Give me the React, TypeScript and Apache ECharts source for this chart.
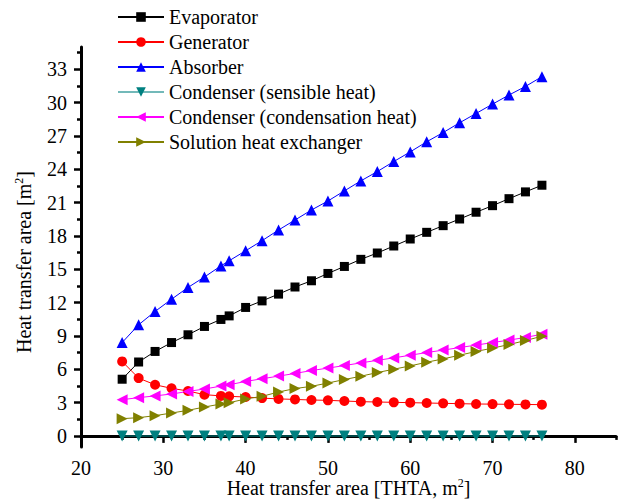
import React, { useEffect, useRef } from "react";
import * as echarts from "echarts";

// Heat transfer area of each component against the total heat transfer area
const totalArea = [25, 27, 29, 31, 33, 35, 37, 38, 40, 42, 44, 46, 48, 50, 52, 54, 56, 58, 60, 62, 64, 66, 68, 70, 72, 74, 76];

const evaporator = [5.1, 6.65, 7.6, 8.4, 9.1, 9.85, 10.48, 10.8, 11.56, 12.15, 12.76, 13.4, 13.96, 14.62, 15.25, 15.89, 16.46, 17.09, 17.72, 18.32, 18.92, 19.52, 20.13, 20.72, 21.35, 21.96, 22.56];
const generator = [6.7, 5.2, 4.6, 4.28, 4.04, 3.71, 3.6, 3.56, 3.5, 3.4, 3.33, 3.28, 3.23, 3.2, 3.14, 3.08, 3.05, 3.02, 2.99, 2.96, 2.93, 2.9, 2.87, 2.86, 2.84, 2.83, 2.81];
const absorber = [8.4, 10.0, 11.2, 12.3, 13.36, 14.3, 15.3, 15.76, 16.66, 17.57, 18.53, 19.43, 20.33, 21.14, 22.05, 22.95, 23.79, 24.69, 25.56, 26.47, 27.3, 28.18, 29.02, 29.86, 30.68, 31.45, 32.33];
const condenserSensible = [0, 0, 0, 0, 0, 0, 0, 0, 0, 0, 0, 0, 0, 0, 0, 0, 0, 0, 0, 0, 0, 0, 0, 0, 0, 0, 0];
const condenserCondensation = [3.26, 3.44, 3.6, 3.77, 4.0, 4.22, 4.48, 4.6, 4.9, 5.14, 5.38, 5.62, 5.88, 6.1, 6.33, 6.57, 6.8, 7.02, 7.26, 7.5, 7.72, 7.95, 8.17, 8.4, 8.62, 8.86, 9.15];
const solutionHx = [1.55, 1.64, 1.82, 2.06, 2.3, 2.6, 2.87, 2.99, 3.32, 3.56, 3.95, 4.26, 4.46, 4.76, 5.07, 5.37, 5.7, 6.0, 6.3, 6.63, 6.93, 7.26, 7.6, 7.9, 8.22, 8.58, 8.97];

const xMajorTicks = [20, 30, 40, 50, 60, 70, 80];
const xMinorTicks = [25, 35, 45, 55, 65, 75, 85];
const yMajorTicks = [0, 3, 6, 9, 12, 15, 18, 21, 24, 27, 30, 33];
const yMinorTicks = [1.5, 4.5, 7.5, 10.5, 13.5, 16.5, 19.5, 22.5, 25.5, 28.5, 31.5, 34.5];

const FONT = "'Liberation Serif', 'Times New Roman', serif";

const pairs = (ys: number[]) => totalArea.map((x, i) => [x, ys[i]]);

const seriesDefs = [
  { name: "Evaporator", data: evaporator, color: "#000000", symbol: "rect", size: 9, rotate: 0 },
  { name: "Generator", data: generator, color: "#FF0000", symbol: "circle", size: 10, rotate: 0 },
  { name: "Absorber", data: absorber, color: "#0000FF", symbol: "triangle", size: 11, rotate: 0 },
  { name: "Condenser (sensible heat)", data: condenserSensible, color: "#008080", symbol: "triangle", size: 11, rotate: 180 },
  { name: "Condenser (condensation heat)", data: condenserCondensation, color: "#FF00FF", symbol: "triangle", size: 11, rotate: 90 },
  { name: "Solution heat exchanger", data: solutionHx, color: "#808000", symbol: "triangle", size: 11, rotate: -90 },
];

export default function App() {
  const ref = useRef<HTMLDivElement>(null);

  useEffect(() => {
    if (!ref.current) return;
    const chart = echarts.init(ref.current, undefined, { renderer: "svg" });

    const axisLine = { show: true, lineStyle: { color: "#000", width: 3 } };
    const labelStyle = { color: "#000", fontSize: 20, fontFamily: FONT };
    const supStyle = { fontSize: 12, fontFamily: FONT, color: "#000", verticalAlign: "top", padding: [0, 0, 10, 0] };

    chart.setOption({
      animation: false,
      backgroundColor: "#fff",
      grid: { left: 81, top: 47, width: 535, height: 400, outerBoundsMode: "none", containLabel: false },
      legend: {
        orient: "vertical",
        left: 117,
        top: 7,
        padding: 0,
        itemWidth: 46,
        itemHeight: 12,
        itemGap: 5,
        textStyle: { color: "#000", fontSize: 20, fontFamily: FONT, lineHeight: 20 },
        data: seriesDefs.map((s) => s.name),
      },
      xAxis: [
        {
          type: "value",
          min: 20,
          max: 85,
          position: "bottom",
          axisLine,
          splitLine: { show: false },
          axisTick: { show: true, customValues: xMajorTicks, length: 7, lineStyle: { color: "#000", width: 2.5 } },
          axisLabel: { ...labelStyle, customValues: xMajorTicks, margin: 11 },
          name: "Heat transfer area [THTA, m{sup|2}]",
          nameLocation: "middle",
          nameGap: 30,
          nameMoveOverlap: false,
          nameTextStyle: { color: "#000", fontSize: 20, fontFamily: FONT, rich: { sup: supStyle } },
        },
        {
          type: "value",
          min: 20,
          max: 85,
          position: "bottom",
          axisLine: { show: false },
          splitLine: { show: false },
          axisTick: { show: true, customValues: xMinorTicks, length: 4, lineStyle: { color: "#000", width: 2.5 } },
          axisLabel: { show: false },
        },
      ],
      yAxis: [
        {
          type: "value",
          min: -1,
          max: 35,
          position: "left",
          axisLine,
          splitLine: { show: false },
          axisTick: { show: true, customValues: yMajorTicks, length: 7, lineStyle: { color: "#000", width: 2.5 } },
          axisLabel: { ...labelStyle, customValues: yMajorTicks, margin: 14 },
          name: "Heat transfer area [m{sup|2}]",
          nameLocation: "middle",
          nameGap: 46,
          nameRotate: 90,
          nameTextStyle: { color: "#000", fontSize: 20, fontFamily: FONT, padding: [0, 30, 0, 0], rich: { sup: supStyle } },
        },
        {
          type: "value",
          min: -1,
          max: 35,
          position: "left",
          axisLine: { show: false },
          splitLine: { show: false },
          axisTick: { show: true, customValues: yMinorTicks, length: 4, lineStyle: { color: "#000", width: 2.5 } },
          axisLabel: { show: false },
        },
      ],
      series: seriesDefs.map((s) => ({
        name: s.name,
        type: "line",
        xAxisIndex: 0,
        yAxisIndex: 0,
        data: pairs(s.data),
        symbol: s.symbol,
        symbolSize: s.size,
        symbolRotate: s.rotate,
        showAllSymbol: true,
        color: s.color,
        itemStyle: { color: s.color, opacity: 1 },
        lineStyle: {
          color: s.color,
          width: s.name === "Condenser (sensible heat)" ? 2 : 1,
          opacity: s.name === "Condenser (sensible heat)" ? 0.55 : 1,
        },
        emphasis: { disabled: true },
      })),
    });

    return () => chart.dispose();
  }, []);

  return <div ref={ref} style={{ width: 623, height: 502, position: "absolute", left: 0, top: 0 }} />;
}
